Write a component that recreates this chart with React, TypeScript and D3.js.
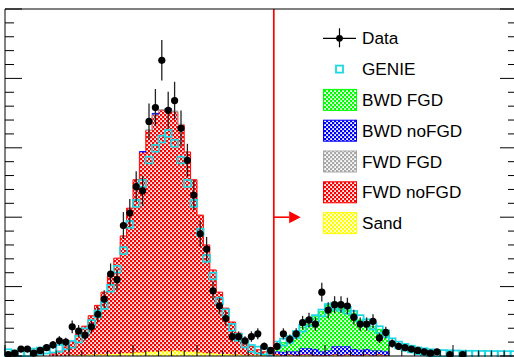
import React from 'react';
import * as d3 from 'd3';

const width = 514;
const height = 357;
const nBins = 80;

// counts per bin (80 bins)
const dataCounts = [
  1, 2, 5, 5, 2, 4, 6, 8, 11, 10,
  21, 18, 15, 21, 30, 41, 59, 55, 94, 103,
  122, 119, 169, 179, 213, 177, 184, 164, 141, 116,
  88, 77, 47, 36, 27, 14, 14, 11, 14, 16,
  7, 4, 7, 16, 12, 16, 24, 26, 23, 46,
  33, 37, 37, 36, 28, 23, 23, 25, 13, 17,
  9, 7, 6, 5, 4, 3, 2, 3, 0, 1,
  0, 1, 0, 0, 0, 0, 0, 0, 0, 0,
];

const genie = [
  2.4, 1.4, 2.2, 2.2, 2.9, 3.6, 4.3, 5, 5.5, 7.2,
  8.4, 12.2, 17.5, 23.4, 30.3, 36.4, 48.8, 62.5, 75.9, 94.8,
  110, 124.4, 141.2, 149.6, 156.3, 160.4, 153.3, 141.2, 124.4, 110,
  89.3, 70.3, 57.6, 39.6, 31.2, 20.7, 13.5, 8.6, 5.5, 4.3,
  3.6, 2.9, 8, 10, 12, 15.5, 20, 24, 27, 31,
  35, 36, 35, 33, 30, 27, 24, 21.5, 19, 16,
  10.3, 7.9, 6.3, 5, 3.8, 3.1, 2.4, 1.9, 1.8, 1.6,
  1.5, 1.4, 1.3, 1.3, 1.2, 1.2, 1.1, 1.1, 1, 1,
];

const sand = [
  0, 0, 0, 0, 0, 0, 0, 0, 0, 0,
  0.5, 0.5, 0.5, 1, 1, 1, 1.5, 1.5, 2, 2,
  2.5, 2.5, 3, 3, 3.5, 3.5, 4, 3.5, 3, 3,
  2.5, 2, 2, 1.5, 1.5, 1, 1, 0.5, 0.5, 0.5,
  0.5, 0, 0.5, 0, 0.5, 0, 0.5, 0.5, 0, 0,
  0, 0.5, 0, 0.5, 0, 0, 0.5, 0, 0.5, 0,
  0, 0, 0, 0, 0, 0, 0, 0, 0, 0,
  0, 0, 0, 0, 0, 0, 0, 0, 0, 0,
];

const fwdNoFgd = [
  0, 0, 0, 0, 0, 0, 0, 1.5, 3.5, 6.5,
  10, 15.5, 21, 28, 35.5, 45, 56, 69, 84.5, 104.5,
  124.5, 144, 159.5, 170.5, 173.5, 173.5, 172, 163, 144, 124,
  99, 78, 60, 44.5, 33, 23.5, 15.5, 10.5, 6.5, 4,
  2.5, 1.5, 1, 0.5, 0.5, 0.5, 0.5, 0.5, 0.5, 0.5,
  0.5, 0.5, 0.5, 0.5, 0.5, 0.5, 0.5, 0.5, 0.5, 0.5,
  0, 0, 0, 0, 0, 0, 0, 0, 0, 0,
  0, 0, 0, 0, 0, 0, 0, 0, 0, 0,
];

const fwdFgd = [
  0, 0, 0, 0, 0, 0, 0, 0, 0, 0,
  0, 0, 0, 0, 0, 0, 0, 0, 0, 0,
  0, 0, 0.5, 0.5, 0.5, 0.5, 0.5, 0.5, 0, 0,
  0, 0, 0, 0, 0, 0, 0, 0, 0, 0,
  0, 0, 0, 0, 0, 0, 0, 0, 0, 0,
  0, 0, 0, 0, 0, 0, 0, 0, 0, 0,
  0, 0, 0, 0, 0, 0, 0, 0, 0, 0,
  0, 0, 0, 0, 0, 0, 0, 0, 0, 0,
];

const bwdNoFgd = [
  0, 0, 0, 0, 0, 0, 0, 0, 0, 0,
  0, 0, 0, 0, 0, 0, 0, 0, 0, 0,
  0, 0.8, 0, 0.8, 0, 0.8, 0, 0, 0, 0,
  0, 0, 0, 0, 0, 0, 0, 0, 0, 0,
  0, 0, 2, 2.5, 2.5, 3, 4.5, 4.5, 4.5, 3,
  3.5, 6, 6.5, 6, 4.5, 4, 4, 3.5, 3, 3,
  0, 0, 0, 0, 0, 0, 0, 0, 0, 0,
  0, 0, 0, 0, 0, 0, 0, 0, 0, 0,
];

const bwdFgd = [
  0, 0, 0, 0, 0, 0, 0, 0, 0, 0,
  0, 0, 0, 0, 0, 0, 0, 0, 0, 0,
  0, 0, 0, 0, 0, 0, 0, 0, 0, 0,
  0, 0, 0, 0, 0, 0, 0, 0, 0, 0,
  0, 0, 4.4, 6.6, 9.3, 13.3, 15.2, 19.2, 23.3, 28.4,
  32.7, 28.5, 29, 26.1, 25.8, 21.4, 19, 17.1, 15.2, 14,
  0, 0, 0, 0, 0, 0, 0, 0, 0, 0,
  0, 0, 0, 0, 0, 0, 0, 0, 0, 0,
];

// stack order, bottom to top
const stackKeys = ['sand', 'fwdNoFgd', 'fwdFgd', 'bwdNoFgd', 'bwdFgd'];
const stackValues: any = { sand, fwdNoFgd, fwdFgd, bwdNoFgd, bwdFgd };
const colors: any = {
  sand: '#ffff00',
  fwdNoFgd: '#ff0000',
  fwdFgd: '#a8a8a8',
  bwdNoFgd: '#0000ff',
  bwdFgd: '#00ff00',
};

const legendLabels = ['Data', 'GENIE', 'BWD FGD', 'BWD noFGD', 'FWD FGD', 'FWD noFGD', 'Sand'];
const legendKeys = ['data', 'genie', 'bwdFgd', 'bwdNoFgd', 'fwdFgd', 'fwdNoFgd', 'sand'];

const cutBin = 42;
const arrowLevel = 100;
const arrowTip = 46.2;
const arrowHead = 44.4;

const x = d3.scaleLinear().domain([0, nBins]).range([5, 517]);
const y = d3.scaleLinear().domain([0, 250]).range([356, 9]);

const cyan = '#1ad8e4';
const font = 'Liberation Sans, Arial, Helvetica, sans-serif';

function runs(vals: number[]) {
  const out: [number, number][] = [];
  let start = -1;
  vals.forEach((v, i) => {
    if (v > 0 && start < 0) start = i;
    if (start >= 0 && (v <= 0 || i === vals.length - 1)) {
      out.push([start, v > 0 ? i : i - 1]);
      start = -1;
    }
  });
  return out;
}

const area = d3.area<number[]>().x(d => x(d[0])).y0(d => y(d[1])).y1(d => y(d[2]));
const line = d3.line<number[]>().x(d => x(d[0])).y(d => y(d[1]));

export default function App() {
  const table = d3.range(nBins).map(i => {
    const row: any = {};
    stackKeys.forEach(k => { row[k] = stackValues[k][i]; });
    return row;
  });
  const series = d3.stack<any>().keys(stackKeys)(table);

  const layers = series.map(s => {
    const vals = stackValues[s.key];
    const lo = s.map(d => d[0]);
    const hi = s.map(d => d[1]);
    const fills: string[] = [];
    const outlines: string[] = [];
    runs(vals).forEach(([a, b]) => {
      const pts: number[][] = [];
      const edge: number[][] = [[a, lo[a]]];
      for (let i = a; i <= b; i++) {
        pts.push([i, lo[i], hi[i]], [i + 1, lo[i], hi[i]]);
        edge.push([i, hi[i]], [i + 1, hi[i]]);
      }
      edge.push([b + 1, lo[b]]);
      fills.push(area(pts) as string);
      outlines.push(line(edge) as string);
    });
    return { key: s.key, fills, outlines };
  });

  const center = (i: number) => x(i + 0.5);
  const yTicks = d3.range(0, 251, 10);
  const xTicks = d3.range(0, nBins + 1, 2);

  const legendX = 323;
  const legendW = 33;
  const legendH = 21;
  const textX = 362;
  const rowY = d3.scaleLinear().domain([0, 1]).range([38.3, 69.1]);

  return (
    <svg width={width} height={height} style={{ position: 'absolute', left: 0, top: 0, background: '#fff' }}>
      <defs>
        {stackKeys.map(k => (
          <pattern key={k} id={`pat-${k}`} width={4} height={4} patternUnits="userSpaceOnUse">
            <rect width={4} height={4} fill={colors[k]} />
            <rect x={0.2} y={0.2} width={1.8} height={1.8} fill="#fff" />
            <rect x={2.2} y={2.2} width={1.8} height={1.8} fill="#fff" />
          </pattern>
        ))}
      </defs>
      <rect width={width} height={height} fill="#fff" />

      {layers.map(l => (
        <g key={l.key}>
          {l.fills.map((d, i) => <path key={i} d={d} fill={`url(#pat-${l.key})`} />)}
          {l.outlines.map((d, i) => <path key={'o' + i} d={d} fill="none" stroke={colors[l.key]} strokeWidth={1} />)}
        </g>
      ))}

      {genie.map((v, i) => v > 0 && (
        <rect key={i} x={center(i) - 3.4} y={y(v) - 3.4} width={6.8} height={6.8}
          fill="none" stroke={cyan} strokeWidth={1.7} />
      ))}

      <line x1={x(cutBin)} x2={x(cutBin)} y1={y(0)} y2={y(250)} stroke="#ff0000" strokeWidth={1.7} />
      <line x1={x(cutBin)} x2={x(arrowHead)} y1={y(arrowLevel)} y2={y(arrowLevel)} stroke="#ff0000" strokeWidth={1.6} />
      <path d={`M${x(arrowHead)},${y(arrowLevel) - 6}L${x(arrowTip)},${y(arrowLevel)}L${x(arrowHead)},${y(arrowLevel) + 6}Z`} fill="#ff0000" />

      {dataCounts.map((v, i) => v > 0 && (
        <g key={i}>
          <line x1={center(i)} x2={center(i)} y1={y(v - Math.sqrt(v))} y2={y(v + Math.sqrt(v))} stroke="#222" strokeWidth={1.3} />
          <circle cx={center(i)} cy={y(v)} r={3.6} fill="#000" />
        </g>
      ))}

      <g stroke="#000" strokeWidth={1} fill="none">
        <line x1={x(0)} x2={x(0)} y1={y(0)} y2={y(250)} />
        <line x1={x(0)} x2={x(nBins)} y1={y(250)} y2={y(250)} />
        <line x1={x(0)} x2={x(nBins)} y1={y(0)} y2={y(0)} />
        <line x1={x(nBins)} x2={x(nBins)} y1={y(0)} y2={y(250)} />
        {yTicks.map(t => {
          const len = t % 50 === 0 ? 17 : 9;
          return (
            <g key={t}>
              <line x1={x(0)} x2={x(0) + len} y1={y(t)} y2={y(t)} />
              <line x1={x(nBins)} x2={x(nBins) - len} y1={y(t)} y2={y(t)} />
            </g>
          );
        })}
        {xTicks.map(t => {
          const len = t % 10 === 0 ? 11 : 5.5;
          return <line key={t} x1={x(t)} x2={x(t)} y1={y(0)} y2={y(0) - len} />;
        })}
      </g>

      <g fontFamily={font} fontSize={17.2} fill="#000">
        {legendKeys.map((k, i) => {
          const cy = rowY(i);
          let marker;
          if (k === 'data') {
            marker = (
              <g>
                <line x1={legendX} x2={legendX + legendW} y1={cy} y2={cy} stroke="#000" strokeWidth={1.2} />
                <line x1={legendX + legendW / 2} x2={legendX + legendW / 2} y1={cy - 10} y2={cy + 9} stroke="#000" strokeWidth={1.2} />
                <circle cx={legendX + legendW / 2} cy={cy} r={3.4} fill="#000" />
              </g>
            );
          } else if (k === 'genie') {
            marker = (
              <rect x={legendX + legendW / 2 - 3.5} y={cy - 3.5} width={7} height={7}
                fill="none" stroke={cyan} strokeWidth={1.8} />
            );
          } else {
            marker = (
              <rect x={legendX + 0.5} y={cy - legendH / 2} width={legendW} height={legendH}
                fill={`url(#pat-${k})`} stroke={colors[k]} strokeWidth={1} />
            );
          }
          return (
            <g key={k}>
              {marker}
              <text x={textX} y={cy + 6}>{legendLabels[i]}</text>
            </g>
          );
        })}
      </g>
    </svg>
  );
}
